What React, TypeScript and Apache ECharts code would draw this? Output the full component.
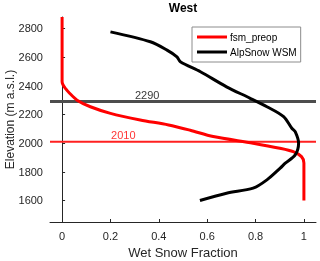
import React, { useEffect, useRef } from "react";
import * as echarts from "echarts";

const xTicks = [0, 0.2, 0.4, 0.6, 0.8, 1];
const yTicks = [1600, 1800, 2000, 2200, 2400, 2600, 2800];

const fsmX = [0, 0, 0.003, 0.012, 0.03, 0.062, 0.117, 0.2, 0.323, 0.44, 0.53, 0.625, 0.79, 0.9, 0.956, 0.99, 1.0, 1.0];
const fsmY = [2880, 2430, 2410, 2385, 2350, 2300, 2254, 2208, 2162, 2127, 2090, 2046, 2000, 1965, 1941, 1906, 1862, 1600];

const wsmX = [0.2, 0.365, 0.434, 0.475, 0.489, 0.572, 0.68, 0.778, 0.847, 0.916, 0.95, 0.964, 0.978, 0.964, 0.923, 0.902, 0.847, 0.79, 0.68, 0.57];
const wsmY = [2776, 2707, 2649, 2602, 2568, 2498, 2393, 2313, 2254, 2185, 2104, 2080, 2000, 1918, 1860, 1826, 1744, 1686, 1651, 1600];

const refLines = [2290, 2010];
const refLabelX = [0.352, 0.253];

const FONT = "Liberation Sans";

export default function App() {
  const ref = useRef<HTMLDivElement>(null);
  useEffect(() => {
    const chart = echarts.init(ref.current!, null, { renderer: "svg" });
    const axisColor = "#262626";
    chart.setOption({
      animation: false,
      textStyle: { fontFamily: FONT },
      title: {
        text: "West",
        left: 183,
        textAlign: "center",
        top: 2,
        padding: 0,
        textStyle: { fontSize: 12, fontWeight: "bold", color: "#000", fontFamily: FONT },
      },
      grid: { left: 50, top: 17, right: 4, bottom: 39, outerBoundsMode: "none", containLabel: false },
      legend: {
        data: ["fsm_preop", "AlpSnow WSM"],
        orient: "vertical",
        left: 192,
        top: 27,
        itemWidth: 30,
        itemHeight: 3,
        itemGap: 5,
        padding: [5, 4, 5, 5],
        icon: "rect",
        borderColor: "#8c8c8c",
        borderWidth: 1,
        backgroundColor: "#fff",
        textStyle: { fontSize: 10, color: "#000", fontFamily: FONT, padding: [0, 0, 0, -2] },
      },
      xAxis: {
        type: "value",
        min: -0.05,
        max: 1.05,
        name: "Wet Snow Fraction",
        nameLocation: "middle",
        nameGap: 24,
        nameMoveOverlap: false,
        nameTextStyle: { fontSize: 13, color: "#262626", fontFamily: FONT },
        axisLine: { show: true, lineStyle: { color: axisColor, width: 1 } },
        axisTick: { show: true, inside: true, length: 3, customValues: xTicks, lineStyle: { color: axisColor } },
        axisLabel: {
          customValues: xTicks,
          fontSize: 11,
          color: "#262626",
          margin: 8,
          fontFamily: FONT,
          formatter: (v: number) => String(Math.round(v * 10) / 10),
        },
        splitLine: { show: false },
      },
      yAxis: {
        type: "value",
        min: 1450,
        max: 2880,
        name: "Elevation (m a.s.l.)",
        nameLocation: "middle",
        nameGap: 34,
        nameMoveOverlap: false,
        nameTextStyle: { fontSize: 12, color: "#262626", fontFamily: FONT },
        axisLine: { show: true, lineStyle: { color: axisColor, width: 1 } },
        axisTick: { show: true, inside: true, length: 3, customValues: yTicks, lineStyle: { color: axisColor } },
        axisLabel: {
          customValues: yTicks,
          fontSize: 11,
          color: "#262626",
          margin: 7,
          fontFamily: FONT,
          formatter: (v: number) => String(v),
        },
        splitLine: { show: false },
      },
      series: [
        {
          name: "ref2290",
          type: "line",
          data: [[-0.05, refLines[0]], [1.05, refLines[0]]],
          showSymbol: false,
          lineStyle: { color: "#4d4d4d", width: 3 },
          z: 1,
        },
        {
          name: "ref2010",
          type: "line",
          data: [[-0.05, refLines[1]], [1.05, refLines[1]]],
          showSymbol: false,
          lineStyle: { color: "#ff2020", width: 2 },
          z: 1,
        },
        {
          name: "fsm_preop",
          type: "line",
          data: fsmX.map((x, i) => [x, fsmY[i]]),
          showSymbol: false,
          smooth: 0.3,
          lineStyle: { color: "#ff0000", width: 3 },
          itemStyle: { color: "#ff0000" },
          z: 3,
        },
        {
          name: "AlpSnow WSM",
          type: "line",
          data: wsmX.map((x, i) => [x, wsmY[i]]),
          showSymbol: false,
          smooth: 0.3,
          lineStyle: { color: "#000000", width: 3 },
          itemStyle: { color: "#000000" },
          z: 3,
        },
        {
          name: "labels",
          type: "scatter",
          symbolSize: 0,
          data: [
            { value: [refLabelX[0], refLines[0]], label: { color: "#000" } },
            { value: [refLabelX[1], refLines[1]], label: { color: "#ff0000" } },
          ],
          label: {
            show: true,
            position: "top",
            distance: 1,
            fontSize: 11,
            fontFamily: FONT,
            formatter: (p: any) => String(p.value[1]),
          },
          z: 4,
        },
      ],
    });
    return () => chart.dispose();
  }, []);
  return (
    <div
      ref={ref}
      style={{ position: "fixed", left: 0, top: 0, width: 320, height: 261 }}
    />
  );
}
